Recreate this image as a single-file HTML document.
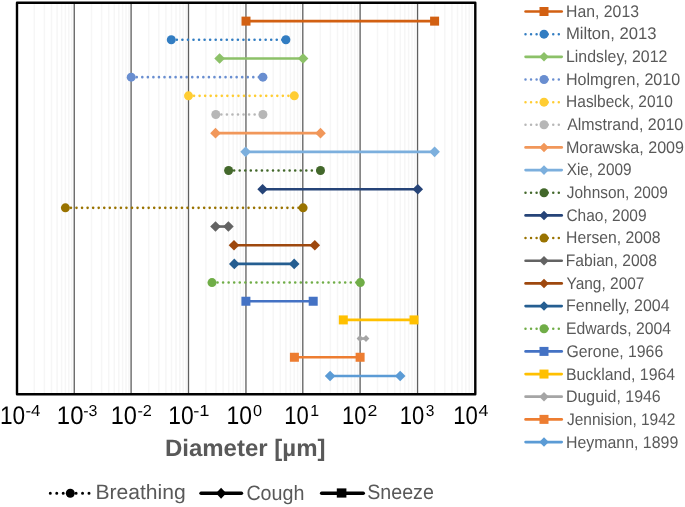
<!DOCTYPE html><html><head><meta charset="utf-8"><style>html,body{margin:0;padding:0;background:#fff;}body{width:685px;height:507px;overflow:hidden;}svg{display:block;will-change:transform;text-rendering:geometricPrecision;font-family:"Liberation Sans",sans-serif;}</style></head><body>
<svg width="685" height="507" viewBox="0 0 685 507">
<rect width="685" height="507" fill="#fff"/>
<path d="M34.32 2.8V394.3M44.39 2.8V394.3M51.54 2.8V394.3M57.08 2.8V394.3M61.61 2.8V394.3M65.44 2.8V394.3M68.76 2.8V394.3M71.68 2.8V394.3M91.52 2.8V394.3M101.59 2.8V394.3M108.74 2.8V394.3M114.28 2.8V394.3M118.81 2.8V394.3M122.64 2.8V394.3M125.96 2.8V394.3M128.88 2.8V394.3M148.72 2.8V394.3M158.79 2.8V394.3M165.94 2.8V394.3M171.48 2.8V394.3M176.01 2.8V394.3M179.84 2.8V394.3M183.16 2.8V394.3M186.08 2.8V394.3M205.92 2.8V394.3M215.99 2.8V394.3M223.14 2.8V394.3M228.68 2.8V394.3M233.21 2.8V394.3M237.04 2.8V394.3M240.36 2.8V394.3M243.28 2.8V394.3M263.12 2.8V394.3M273.19 2.8V394.3M280.34 2.8V394.3M285.88 2.8V394.3M290.41 2.8V394.3M294.24 2.8V394.3M297.56 2.8V394.3M300.48 2.8V394.3M320.32 2.8V394.3M330.39 2.8V394.3M337.54 2.8V394.3M343.08 2.8V394.3M347.61 2.8V394.3M351.44 2.8V394.3M354.76 2.8V394.3M357.68 2.8V394.3M377.52 2.8V394.3M387.59 2.8V394.3M394.74 2.8V394.3M400.28 2.8V394.3M404.81 2.8V394.3M408.64 2.8V394.3M411.96 2.8V394.3M414.88 2.8V394.3M434.72 2.8V394.3M444.79 2.8V394.3M451.94 2.8V394.3M457.48 2.8V394.3M462.01 2.8V394.3M465.84 2.8V394.3M469.16 2.8V394.3M472.08 2.8V394.3" stroke="#F6F6F6" stroke-width="1.5" fill="none"/>
<path d="M74.25 2.8V394.3M131.10 2.8V394.3M188.50 2.8V394.3M245.95 2.8V394.3M302.80 2.8V394.3M360.10 2.8V394.3M417.55 2.8V394.3" stroke="#5F5F5F" stroke-width="1.3" fill="none"/>
<path d="M246.00 21.13H434.60" stroke="#D26012" stroke-width="2.6" fill="none"/>
<rect x="241.50" y="16.63" width="9.00" height="9.00" fill="#D26012"/>
<rect x="430.10" y="16.63" width="9.00" height="9.00" fill="#D26012"/>
<path d="M171.30 39.80H285.90" stroke="#327DC2" stroke-width="2.6" stroke-linecap="round" stroke-dasharray="0 5.55" fill="none"/>
<circle cx="171.30" cy="39.80" r="4.50" fill="#327DC2"/>
<circle cx="285.90" cy="39.80" r="4.50" fill="#327DC2"/>
<path d="M219.60 58.48H303.10" stroke="#8CC168" stroke-width="2.6" fill="none"/>
<path d="M214.30 58.48L219.60 53.18L224.90 58.48L219.60 63.78Z" fill="#8CC168"/>
<path d="M297.80 58.48L303.10 53.18L308.40 58.48L303.10 63.78Z" fill="#8CC168"/>
<path d="M131.20 77.15H262.90" stroke="#698ED0" stroke-width="2.6" stroke-linecap="round" stroke-dasharray="0 5.55" fill="none"/>
<circle cx="131.20" cy="77.15" r="4.50" fill="#698ED0"/>
<circle cx="262.90" cy="77.15" r="4.50" fill="#698ED0"/>
<path d="M188.50 95.83H294.30" stroke="#FFCD33" stroke-width="2.6" stroke-linecap="round" stroke-dasharray="0 5.55" fill="none"/>
<circle cx="188.50" cy="95.83" r="4.50" fill="#FFCD33"/>
<circle cx="294.30" cy="95.83" r="4.50" fill="#FFCD33"/>
<path d="M215.80 114.50H262.90" stroke="#B7B7B7" stroke-width="2.6" stroke-linecap="round" stroke-dasharray="0 5.55" fill="none"/>
<circle cx="215.80" cy="114.50" r="4.50" fill="#B7B7B7"/>
<circle cx="262.90" cy="114.50" r="4.50" fill="#B7B7B7"/>
<path d="M215.50 133.17H320.50" stroke="#F1975A" stroke-width="2.6" fill="none"/>
<path d="M210.20 133.17L215.50 127.87L220.80 133.17L215.50 138.47Z" fill="#F1975A"/>
<path d="M315.20 133.17L320.50 127.87L325.80 133.17L320.50 138.47Z" fill="#F1975A"/>
<path d="M245.60 151.85H434.60" stroke="#7CAFDD" stroke-width="2.6" fill="none"/>
<path d="M240.30 151.85L245.60 146.55L250.90 151.85L245.60 157.15Z" fill="#7CAFDD"/>
<path d="M429.30 151.85L434.60 146.55L439.90 151.85L434.60 157.15Z" fill="#7CAFDD"/>
<path d="M228.60 170.52H320.50" stroke="#43682B" stroke-width="2.6" stroke-linecap="round" stroke-dasharray="0 5.55" fill="none"/>
<circle cx="228.60" cy="170.52" r="4.50" fill="#43682B"/>
<circle cx="320.50" cy="170.52" r="4.50" fill="#43682B"/>
<path d="M262.60 189.20H417.80" stroke="#264478" stroke-width="2.6" fill="none"/>
<path d="M257.30 189.20L262.60 183.90L267.90 189.20L262.60 194.50Z" fill="#264478"/>
<path d="M412.50 189.20L417.80 183.90L423.10 189.20L417.80 194.50Z" fill="#264478"/>
<path d="M65.40 207.87H303.10" stroke="#997300" stroke-width="2.6" stroke-linecap="round" stroke-dasharray="0 5.55" fill="none"/>
<circle cx="65.40" cy="207.87" r="4.50" fill="#997300"/>
<circle cx="303.10" cy="207.87" r="4.50" fill="#997300"/>
<path d="M215.50 226.54H228.40" stroke="#636363" stroke-width="2.6" fill="none"/>
<path d="M210.20 226.54L215.50 221.24L220.80 226.54L215.50 231.84Z" fill="#636363"/>
<path d="M223.10 226.54L228.40 221.24L233.70 226.54L228.40 231.84Z" fill="#636363"/>
<path d="M234.00 245.22H314.80" stroke="#9E480E" stroke-width="2.6" fill="none"/>
<path d="M228.70 245.22L234.00 239.92L239.30 245.22L234.00 250.52Z" fill="#9E480E"/>
<path d="M309.50 245.22L314.80 239.92L320.10 245.22L314.80 250.52Z" fill="#9E480E"/>
<path d="M234.30 263.89H294.20" stroke="#255E91" stroke-width="2.6" fill="none"/>
<path d="M229.00 263.89L234.30 258.59L239.60 263.89L234.30 269.19Z" fill="#255E91"/>
<path d="M288.90 263.89L294.20 258.59L299.50 263.89L294.20 269.19Z" fill="#255E91"/>
<path d="M212.00 282.57H360.30" stroke="#70AD47" stroke-width="2.6" stroke-linecap="round" stroke-dasharray="0 5.55" fill="none"/>
<circle cx="212.00" cy="282.57" r="4.50" fill="#70AD47"/>
<circle cx="360.30" cy="282.57" r="4.50" fill="#70AD47"/>
<path d="M245.90 301.24H313.20" stroke="#4472C4" stroke-width="2.6" fill="none"/>
<rect x="241.40" y="296.74" width="9.00" height="9.00" fill="#4472C4"/>
<rect x="308.70" y="296.74" width="9.00" height="9.00" fill="#4472C4"/>
<path d="M343.30 319.91H414.00" stroke="#FFC000" stroke-width="2.6" fill="none"/>
<rect x="338.80" y="315.41" width="9.00" height="9.00" fill="#FFC000"/>
<rect x="409.50" y="315.41" width="9.00" height="9.00" fill="#FFC000"/>
<path d="M360.00 338.59H366.00" stroke="#A5A5A5" stroke-width="2.6" fill="none"/>
<path d="M356.60 338.59L360.00 335.09L363.40 338.59L360.00 342.09Z" fill="#A5A5A5"/>
<path d="M362.60 338.59L366.00 335.09L369.40 338.59L366.00 342.09Z" fill="#A5A5A5"/>
<path d="M294.40 357.26H360.10" stroke="#ED7D31" stroke-width="2.6" fill="none"/>
<rect x="289.90" y="352.76" width="9.00" height="9.00" fill="#ED7D31"/>
<rect x="355.60" y="352.76" width="9.00" height="9.00" fill="#ED7D31"/>
<path d="M330.10 375.94H400.20" stroke="#5B9BD5" stroke-width="2.6" fill="none"/>
<path d="M324.80 375.94L330.10 370.64L335.40 375.94L330.10 381.24Z" fill="#5B9BD5"/>
<path d="M394.90 375.94L400.20 370.64L405.50 375.94L400.20 381.24Z" fill="#5B9BD5"/>
<rect x="17.0" y="2.8" width="458.30" height="391.50" fill="none" stroke="#000" stroke-width="2.4" stroke-linejoin="round"/>
<path d="M525.60 11.50H561.70" stroke="#D26012" stroke-width="2.7" stroke-linecap="round" fill="none"/>
<rect x="539.50" y="7.00" width="9.00" height="9.00" fill="#D26012"/>
<path d="M525.50 34.16H563.00" stroke="#327DC2" stroke-width="2.5" stroke-linecap="round" stroke-dasharray="0 5.55" fill="none"/>
<circle cx="544.00" cy="34.16" r="4.50" fill="#327DC2"/>
<path d="M525.60 56.82H561.70" stroke="#8CC168" stroke-width="2.7" stroke-linecap="round" fill="none"/>
<path d="M539.23 56.82L544.00 52.05L548.77 56.82L544.00 61.59Z" fill="#8CC168"/>
<path d="M525.50 79.48H563.00" stroke="#698ED0" stroke-width="2.5" stroke-linecap="round" stroke-dasharray="0 5.55" fill="none"/>
<circle cx="544.00" cy="79.48" r="4.50" fill="#698ED0"/>
<path d="M525.50 102.14H563.00" stroke="#FFCD33" stroke-width="2.5" stroke-linecap="round" stroke-dasharray="0 5.55" fill="none"/>
<circle cx="544.00" cy="102.14" r="4.50" fill="#FFCD33"/>
<path d="M525.50 124.80H563.00" stroke="#B7B7B7" stroke-width="2.5" stroke-linecap="round" stroke-dasharray="0 5.55" fill="none"/>
<circle cx="544.00" cy="124.80" r="4.50" fill="#B7B7B7"/>
<path d="M525.60 147.46H561.70" stroke="#F1975A" stroke-width="2.7" stroke-linecap="round" fill="none"/>
<path d="M539.23 147.46L544.00 142.69L548.77 147.46L544.00 152.23Z" fill="#F1975A"/>
<path d="M525.60 170.12H561.70" stroke="#7CAFDD" stroke-width="2.7" stroke-linecap="round" fill="none"/>
<path d="M539.23 170.12L544.00 165.35L548.77 170.12L544.00 174.89Z" fill="#7CAFDD"/>
<path d="M525.50 192.78H563.00" stroke="#43682B" stroke-width="2.5" stroke-linecap="round" stroke-dasharray="0 5.55" fill="none"/>
<circle cx="544.00" cy="192.78" r="4.50" fill="#43682B"/>
<path d="M525.60 215.44H561.70" stroke="#264478" stroke-width="2.7" stroke-linecap="round" fill="none"/>
<path d="M539.23 215.44L544.00 210.67L548.77 215.44L544.00 220.21Z" fill="#264478"/>
<path d="M525.50 238.10H563.00" stroke="#997300" stroke-width="2.5" stroke-linecap="round" stroke-dasharray="0 5.55" fill="none"/>
<circle cx="544.00" cy="238.10" r="4.50" fill="#997300"/>
<path d="M525.60 260.76H561.70" stroke="#636363" stroke-width="2.7" stroke-linecap="round" fill="none"/>
<path d="M539.23 260.76L544.00 255.99L548.77 260.76L544.00 265.53Z" fill="#636363"/>
<path d="M525.60 283.42H561.70" stroke="#9E480E" stroke-width="2.7" stroke-linecap="round" fill="none"/>
<path d="M539.23 283.42L544.00 278.65L548.77 283.42L544.00 288.19Z" fill="#9E480E"/>
<path d="M525.60 306.08H561.70" stroke="#255E91" stroke-width="2.7" stroke-linecap="round" fill="none"/>
<path d="M539.23 306.08L544.00 301.31L548.77 306.08L544.00 310.85Z" fill="#255E91"/>
<path d="M525.50 328.74H563.00" stroke="#70AD47" stroke-width="2.5" stroke-linecap="round" stroke-dasharray="0 5.55" fill="none"/>
<circle cx="544.00" cy="328.74" r="4.50" fill="#70AD47"/>
<path d="M525.60 351.40H561.70" stroke="#4472C4" stroke-width="2.7" stroke-linecap="round" fill="none"/>
<rect x="539.50" y="346.90" width="9.00" height="9.00" fill="#4472C4"/>
<path d="M525.60 374.06H561.70" stroke="#FFC000" stroke-width="2.7" stroke-linecap="round" fill="none"/>
<rect x="539.50" y="369.56" width="9.00" height="9.00" fill="#FFC000"/>
<path d="M525.60 396.72H561.70" stroke="#A5A5A5" stroke-width="2.7" stroke-linecap="round" fill="none"/>
<path d="M539.23 396.72L544.00 391.95L548.77 396.72L544.00 401.49Z" fill="#A5A5A5"/>
<path d="M525.60 419.38H561.70" stroke="#ED7D31" stroke-width="2.7" stroke-linecap="round" fill="none"/>
<rect x="539.50" y="414.88" width="9.00" height="9.00" fill="#ED7D31"/>
<path d="M525.60 442.04H561.70" stroke="#5B9BD5" stroke-width="2.7" stroke-linecap="round" fill="none"/>
<path d="M539.23 442.04L544.00 437.27L548.77 442.04L544.00 446.81Z" fill="#5B9BD5"/>
<path d="M50.3 493.3H90" stroke="#000" stroke-width="3" stroke-linecap="round" stroke-dasharray="0 6.45" fill="none"/>
<circle cx="70.3" cy="493.3" r="4.5" fill="#000"/>
<path d="M201 493.3H241.5" stroke="#000" stroke-width="3.4" stroke-linecap="round" fill="none"/>
<path d="M216 493.3L221.1 487.8L226.2 493.3L221.1 498.8Z" fill="#000"/>
<path d="M321.6 493.3H363.3" stroke="#000" stroke-width="3.4" stroke-linecap="round" fill="none"/>
<rect x="336.8" y="488.4" width="9.6" height="9.2" fill="#000"/>
<text x="566.09" y="16.55" font-size="16.92" fill="#595959" textLength="72.87" lengthAdjust="spacingAndGlyphs">Han, 2013</text>
<text x="565.89" y="39.24" font-size="16.92" fill="#595959" textLength="90.67" lengthAdjust="spacingAndGlyphs">Milton, 2013</text>
<text x="565.98" y="61.92" font-size="16.92" fill="#595959" textLength="101.41" lengthAdjust="spacingAndGlyphs">Lindsley, 2012</text>
<text x="565.88" y="84.61" font-size="16.92" fill="#595959" textLength="114.26" lengthAdjust="spacingAndGlyphs">Holmgren, 2010</text>
<text x="566.12" y="107.30" font-size="16.92" fill="#595959" textLength="106.65" lengthAdjust="spacingAndGlyphs">Haslbeck, 2010</text>
<text x="567.17" y="129.98" font-size="16.92" fill="#595959" textLength="116.07" lengthAdjust="spacingAndGlyphs">Almstrand, 2010</text>
<text x="565.94" y="152.67" font-size="16.92" fill="#595959" textLength="118.07" lengthAdjust="spacingAndGlyphs">Morawska, 2009</text>
<text x="566.71" y="175.36" font-size="16.92" fill="#595959" textLength="64.75" lengthAdjust="spacingAndGlyphs">Xie, 2009</text>
<text x="566.84" y="198.05" font-size="16.92" fill="#595959" textLength="101.12" lengthAdjust="spacingAndGlyphs">Johnson, 2009</text>
<text x="566.43" y="220.73" font-size="16.92" fill="#595959" textLength="80.09" lengthAdjust="spacingAndGlyphs">Chao, 2009</text>
<text x="566.10" y="243.42" font-size="16.92" fill="#595959" textLength="94.54" lengthAdjust="spacingAndGlyphs">Hersen, 2008</text>
<text x="565.81" y="266.11" font-size="16.92" fill="#595959" textLength="91.15" lengthAdjust="spacingAndGlyphs">Fabian, 2008</text>
<text x="566.49" y="288.79" font-size="16.92" fill="#595959" textLength="77.98" lengthAdjust="spacingAndGlyphs">Yang, 2007</text>
<text x="566.04" y="311.48" font-size="16.92" fill="#595959" textLength="103.53" lengthAdjust="spacingAndGlyphs">Fennelly, 2004</text>
<text x="565.99" y="334.17" font-size="16.92" fill="#595959" textLength="104.91" lengthAdjust="spacingAndGlyphs">Edwards, 2004</text>
<text x="566.51" y="356.86" font-size="16.92" fill="#595959" textLength="96.72" lengthAdjust="spacingAndGlyphs">Gerone, 1966</text>
<text x="566.03" y="379.54" font-size="16.92" fill="#595959" textLength="109.00" lengthAdjust="spacingAndGlyphs">Buckland, 1964</text>
<text x="565.92" y="402.23" font-size="16.92" fill="#595959" textLength="94.83" lengthAdjust="spacingAndGlyphs">Duguid, 1946</text>
<text x="566.97" y="424.92" font-size="16.92" fill="#595959" textLength="108.45" lengthAdjust="spacingAndGlyphs">Jennision, 1942</text>
<text x="565.98" y="447.60" font-size="16.92" fill="#595959" textLength="112.25" lengthAdjust="spacingAndGlyphs">Heymann, 1899</text>
<text x="-0.01" y="423.64" font-size="25.61" fill="#000" textLength="25.18" lengthAdjust="spacingAndGlyphs">10</text>
<text x="25.50" y="416.35" font-size="15.85" fill="#000" textLength="15.02" lengthAdjust="spacingAndGlyphs">-4</text>
<text x="56.87" y="424.49" font-size="25.61" fill="#000" textLength="26.62" lengthAdjust="spacingAndGlyphs">10</text>
<text x="83.30" y="416.19" font-size="15.85" fill="#000" textLength="14.19" lengthAdjust="spacingAndGlyphs">-3</text>
<text x="110.76" y="423.69" font-size="25.61" fill="#000" textLength="26.22" lengthAdjust="spacingAndGlyphs">10</text>
<text x="137.40" y="416.00" font-size="15.85" fill="#000" textLength="14.49" lengthAdjust="spacingAndGlyphs">-2</text>
<text x="168.37" y="424.16" font-size="25.61" fill="#000" textLength="25.42" lengthAdjust="spacingAndGlyphs">10</text>
<text x="193.15" y="416.00" font-size="15.85" fill="#000" textLength="16.30" lengthAdjust="spacingAndGlyphs">-1</text>
<text x="226.51" y="424.34" font-size="25.61" fill="#000" textLength="25.48" lengthAdjust="spacingAndGlyphs">10</text>
<text x="252.91" y="415.98" font-size="15.85" fill="#000" textLength="9.04" lengthAdjust="spacingAndGlyphs">0</text>
<text x="284.16" y="424.07" font-size="25.61" fill="#000" textLength="24.53" lengthAdjust="spacingAndGlyphs">10</text>
<text x="310.20" y="416.00" font-size="15.85" fill="#000" textLength="8.85" lengthAdjust="spacingAndGlyphs">1</text>
<text x="341.90" y="424.29" font-size="25.61" fill="#000" textLength="24.54" lengthAdjust="spacingAndGlyphs">10</text>
<text x="367.54" y="416.00" font-size="15.85" fill="#000" textLength="9.84" lengthAdjust="spacingAndGlyphs">2</text>
<text x="399.82" y="424.33" font-size="25.61" fill="#000" textLength="24.53" lengthAdjust="spacingAndGlyphs">10</text>
<text x="425.67" y="416.02" font-size="15.85" fill="#000" textLength="8.62" lengthAdjust="spacingAndGlyphs">3</text>
<text x="453.26" y="423.90" font-size="25.61" fill="#000" textLength="24.59" lengthAdjust="spacingAndGlyphs">10</text>
<text x="478.50" y="415.66" font-size="15.85" fill="#000" textLength="9.93" lengthAdjust="spacingAndGlyphs">4</text>
<text x="164.90" y="456.30" font-size="23.78" font-weight="bold" fill="#595959" textLength="160.64" lengthAdjust="spacingAndGlyphs">Diameter [µm]</text>
<text x="95.41" y="499.00" font-size="20.87" fill="#595959" textLength="90.35" lengthAdjust="spacingAndGlyphs">Breathing</text>
<text x="246.39" y="499.89" font-size="20.87" fill="#595959" textLength="58.05" lengthAdjust="spacingAndGlyphs">Cough</text>
<text x="367.20" y="499.00" font-size="20.87" fill="#595959" textLength="66.64" lengthAdjust="spacingAndGlyphs">Sneeze</text>
</svg></body></html>
